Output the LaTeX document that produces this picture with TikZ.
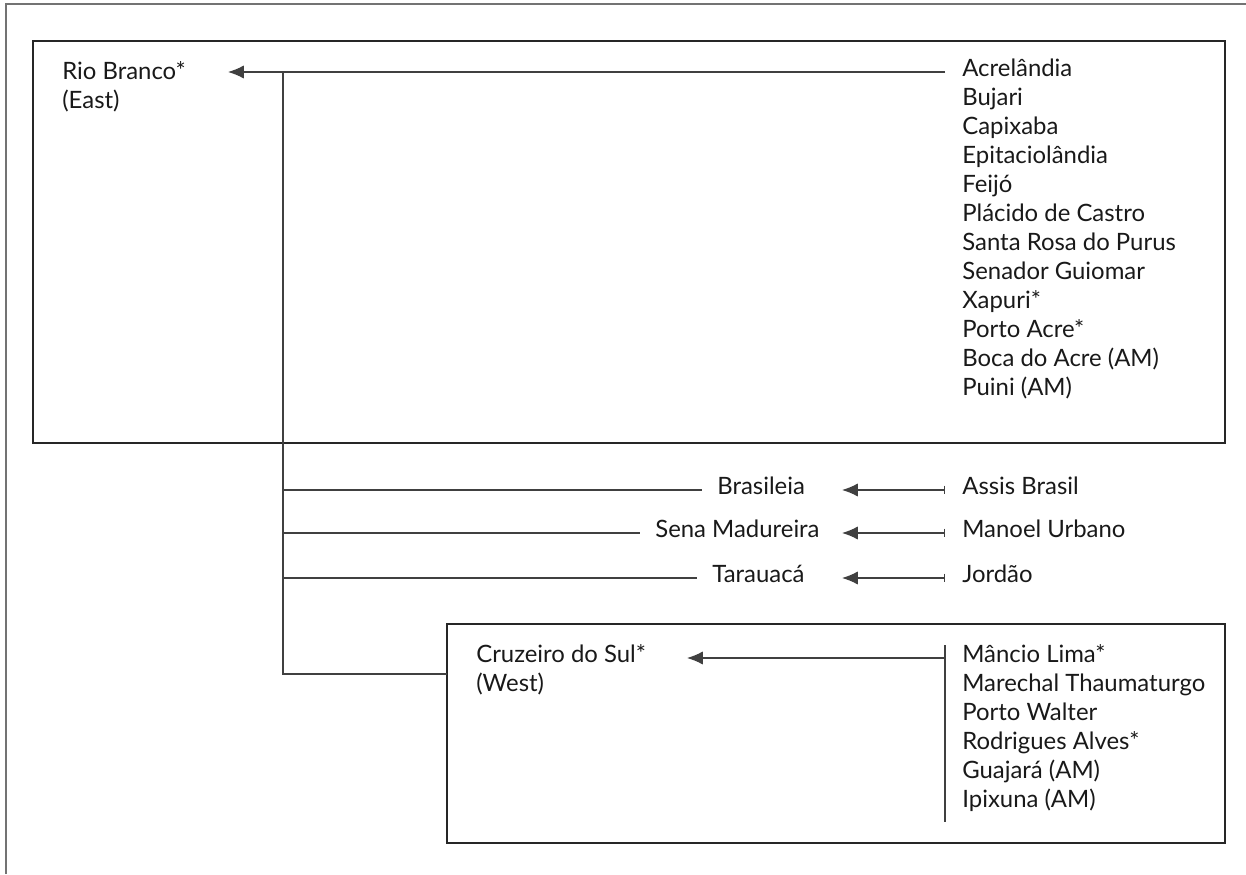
\documentclass[tikz,border=0pt]{standalone}
\usepackage{fontspec}
\setmainfont{Lato}
\usetikzlibrary{arrows.meta}

\tikzset{
  place/.style={inner sep=0pt, font=\fontsize{13.6}{16.4}\selectfont, text=black!90},
  region/.style={draw=black!85, line width=1.1pt},
  link/.style={draw=black!75, line width=0.65pt},
  flow/.style={link, -{Latex[length=9pt,width=7.5pt]}},
  tickflow/.style={link, {Bar[width=5pt]}-{Latex[length=9pt,width=7.5pt]}},
}

\begin{document}
\begin{tikzpicture}
  \useasboundingbox (0,0) rectangle (24.92,17.48);

  % page frame
  \draw[draw=black!55, line width=0.6pt] (0.12,0) -- (0.12,17.4) -- (24.92,17.4);

  % East
  \draw[region] (0.66,8.62) rectangle (24.5,16.66);
  \node[place, align=left, anchor=north west] (rb) at (1.24,16.26) {Rio Branco*\\(East)};
  \foreach \name [count=\i from 0] in {Acrelândia, Bujari, Capixaba, Epitaciolândia, Feijó,
      Plácido de Castro, Santa Rosa do Purus, Senador Guiomar, Xapuri*, Porto Acre*,
      Boca do Acre (AM), Puini (AM)}
    \node[place, anchor=mid west] (e\i) at ({19.24},{16.04-0.58*\i}) {\name};

  \coordinate (rbtip) at (4.56,16.04);
  \coordinate (trunktop) at (5.66,16.04);
  \coordinate (trunkend) at (5.66,4.0);
  \draw[flow, shorten <=0.34cm] (e0.mid west) -- (rbtip);

  % West
  \draw[region] (8.94,0.62) rectangle (24.5,5.0);
  \node[place, align=left, anchor=north west] (cs) at (9.52,4.6) {Cruzeiro do Sul*\\(West)};
  \foreach \name [count=\i from 0] in {Mâncio Lima*, Marechal Thaumaturgo, Porto Walter,
      Rodrigues Alves*, Guajará (AM), Ipixuna (AM)}
    \node[place, anchor=mid west] (w\i) at ({19.24},{4.32-0.58*\i}) {\name};

  \coordinate (bartop) at (18.9,4.58);
  \coordinate (barend) at (18.9,1.04);
  \coordinate (cstip) at (13.74,4.32);
  \draw[link] (bartop) -- (barend);
  \draw[flow] (bartop |- cstip) -- (cstip);

  % trunk
  \draw[link] (trunktop) -- (trunkend) -- (trunkend -| 8.94,0);

  % middle hubs
  \foreach \hub/\src/\y/\hx [count=\i] in {Brasileia/Assis Brasil/7.68/14.34,
      Sena Madureira/Manoel Urbano/6.82/13.1, Tarauacá/Jordão/5.92/14.24} {
    \node[place, anchor=mid west] (h\i) at (\hx,\y) {\hub};
    \node[place, anchor=mid west] (s\i) at (19.24,\y) {\src};
    \coordinate (t\i) at (16.84,\y);
    \draw[link, shorten >=0.3cm] (trunktop |- h\i.mid west) -- (h\i.mid west);
    \draw[tickflow, shorten <=0.34cm] (s\i.mid west) -- (t\i);
  }
\end{tikzpicture}
\end{document}
